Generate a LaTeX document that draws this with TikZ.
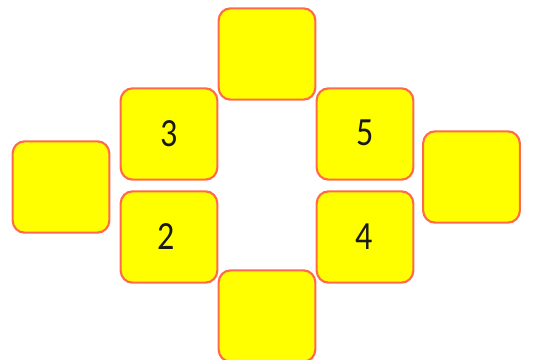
\documentclass[tikz,border=0pt]{standalone}
\usepackage{fontspec}
\setmainfont{Carlito}
\definecolor{boxborder}{HTML}{FF6A4A}
\definecolor{boxfill}{HTML}{FFFF00}
\tikzset{
  tile/.style={draw=boxborder, fill=boxfill, line width=1.6pt, rounded corners=9pt,
    minimum width=72.5pt, minimum height=68.5pt, inner sep=0pt,
    font=\fontsize{30}{30}\selectfont, text=black!90}
}
\newcommand{\narrowdigit}[1]{\scalebox{0.85}[1]{#1}}
\begin{document}
\begin{tikzpicture}[x=0.75pt,y=-0.75pt]
\useasboundingbox (0,0) rectangle (533,360);
\node[tile] (top) at (267,54) {};
\node[tile] (three) at (169,134) {\narrowdigit{3}};
\node[tile] (five) at (365,134) {\raisebox{2.5pt}{\narrowdigit{5}}};
\node[tile] (left) at (61,187) {};
\node[tile] (right) at (471.5,177) {};
\node[tile] (two) at (169,237) {\hspace*{-5pt}\narrowdigit{2}};
\node[tile] (four) at (365,237) {\hspace*{-2pt}\narrowdigit{4}};
\node[tile] (bottom) at (267,316) {};
\end{tikzpicture}
\end{document}
